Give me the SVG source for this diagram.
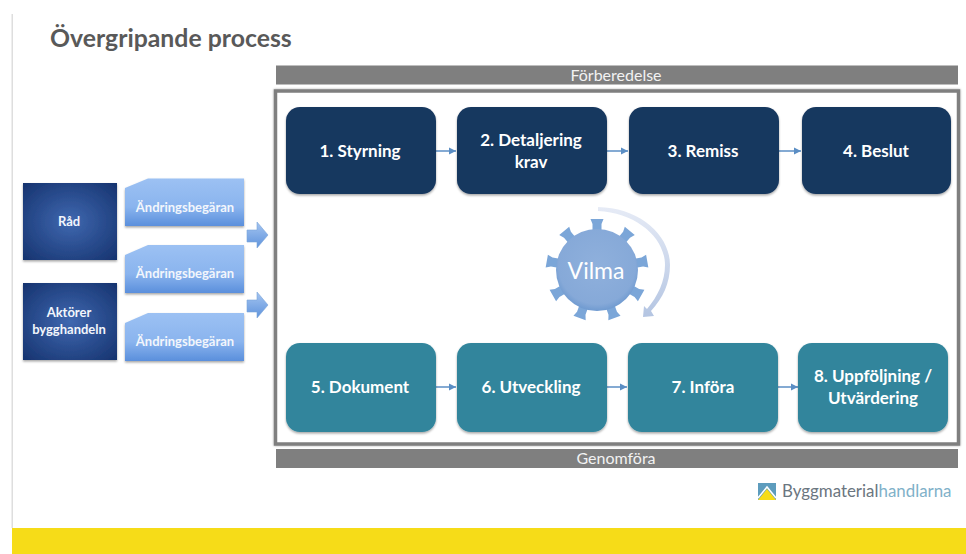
<svg xmlns="http://www.w3.org/2000/svg" width="966" height="554" viewBox="0 0 966 554">
<style>
text{font-family:Lato,"Open Sans","Liberation Sans",sans-serif;text-anchor:middle}
.b{font-weight:700;font-size:17px;fill:#fff}
.s{font-weight:700;font-size:13px;fill:#f2f6fc}
.h{font-size:16px;fill:#f2f2f2}
.navy{fill:#17375e;filter:url(#sh)}
.teal{fill:#31859c;filter:url(#sh)}
.ch{fill:url(#cg);filter:url(#sh)}
.sq{fill:url(#rg);filter:url(#sh)}
.ar{fill:url(#ag);stroke:#7ba4d8;stroke-width:.6}
.c{stroke:#5b8ec4;stroke-width:1.500;fill:none;marker-end:url(#m)}
.t{fill:#7ba6d8}
</style>
<defs>
<filter id="sh" x="-5%" y="-5%" width="110%" height="112%"><feDropShadow dx="0" dy="1.500" stdDeviation="1.200" flood-color="#000" flood-opacity=".35"/></filter>
<filter id="fs" x="-2%" y="-2%" width="104%" height="104%"><feDropShadow dx="0" dy="0" stdDeviation="1.200" flood-color="#000" flood-opacity=".35"/></filter>
<marker id="m" markerWidth="6" markerHeight="6" refX="5" refY="3" orient="auto"><path d="M0 .5L5 3L0 5.500z" fill="#5b8ec4"/></marker>
<linearGradient id="cg" x1="0" y1="0" x2="0" y2="1"><stop offset="0" stop-color="#9cc1f3"/><stop offset=".6" stop-color="#8ab4ee"/><stop offset="1" stop-color="#5a8fdc"/></linearGradient>
<linearGradient id="ag" x1="0" y1="0" x2="0" y2="1"><stop offset="0" stop-color="#a5c5f1"/><stop offset="1" stop-color="#5f93dc"/></linearGradient>
<radialGradient id="rg" cx=".5" cy=".5" r=".7"><stop offset="0" stop-color="#3f68b0"/><stop offset="1" stop-color="#16336f"/></radialGradient>
<radialGradient id="gg" cx=".5" cy=".45" r=".55"><stop offset="0" stop-color="#8fb0dc"/><stop offset=".85" stop-color="#86a9d8"/><stop offset="1" stop-color="#6f9ad0"/></radialGradient>
<linearGradient id="arc" x1="0" y1="0" x2="0" y2="1"><stop offset="0" stop-color="#e6ebf6"/><stop offset="1" stop-color="#b4c5e2"/></linearGradient>
<path id="tooth" class="t" d="M-4.500 -36V-46L-6.500 -51H6.500L4.500 -46V-36Z"/>
</defs>
<rect width="966" height="554" fill="#fff"/>
<rect x="11.500" y="14" width="1.500" height="514" fill="#dedede"/>
<rect x="12" y="528" width="954" height="26" fill="#f6dc18"/>
<text x="50" y="47" style="text-anchor:start;font-weight:700;font-size:24.800px;fill:#595959">Övergripande process</text>

<g id="frame"><rect x="275.500" y="91" width="683" height="353" fill="#fff" stroke="#7f7f7f" stroke-width="3.500" filter="url(#fs)"/></g>
<g id="forberedelse"><rect x="276" y="65.500" width="682" height="19" fill="#7f7f7f"/><text class="h" x="616" y="81">Förberedelse</text></g>
<g id="genomfora"><rect x="276" y="449" width="682" height="19" fill="#7f7f7f"/><text class="h" x="616" y="464">Genomföra</text></g>

<g id="connectors">
<path class="c" d="M436 151H456"/>
<path class="c" d="M607 151H628"/>
<path class="c" d="M779 151H801"/>
<path class="c" d="M436 387H456"/>
<path class="c" d="M607 387H627"/>
<path class="c" d="M778 387H798"/>
</g>

<g id="n1"><rect class="navy" x="286" y="107" width="150" height="87" rx="14"/><text class="b" x="360" y="157">1. Styrning</text></g>
<g id="n2"><rect class="navy" x="457" y="107" width="150" height="87" rx="14"/><text class="b" x="531" y="146">2. Detaljering</text><text class="b" x="531" y="168">krav</text></g>
<g id="n3"><rect class="navy" x="629" y="107" width="150" height="87" rx="14"/><text class="b" x="703" y="157">3. Remiss</text></g>
<g id="n4"><rect class="navy" x="802" y="107" width="149" height="87" rx="14"/><text class="b" x="876" y="157">4. Beslut</text></g>
<g id="n5"><rect class="teal" x="286" y="343" width="150" height="89" rx="14"/><text class="b" x="360" y="393">5. Dokument</text></g>
<g id="n6"><rect class="teal" x="457" y="343" width="150" height="89" rx="14"/><text class="b" x="531" y="393">6. Utveckling</text></g>
<g id="n7"><rect class="teal" x="628" y="343" width="150" height="89" rx="14"/><text class="b" x="703" y="393">7. Införa</text></g>
<g id="n8"><rect class="teal" x="798" y="343" width="150" height="89" rx="14"/><text class="b" x="873" y="382">8. Uppföljning /</text><text class="b" x="873" y="404">Utvärdering</text></g>

<g id="vilma">
<path d="M598 207C640 208 670 235 670 265C670 283 663 298 651 311L654 316L643 317L644 306L647 309C658 296 665 281 665 265C665 238 637 213 598 211Z" fill="url(#arc)"/>
<g transform="translate(597 270)">
<use href="#tooth"/>
<use href="#tooth" transform="rotate(40)"/>
<use href="#tooth" transform="rotate(80)"/>
<use href="#tooth" transform="rotate(120)"/>
<use href="#tooth" transform="rotate(160)"/>
<use href="#tooth" transform="rotate(200)"/>
<use href="#tooth" transform="rotate(240)"/>
<use href="#tooth" transform="rotate(280)"/>
<use href="#tooth" transform="rotate(320)"/>
<circle r="41" fill="url(#gg)"/>
</g>
<text x="596" y="279" style="font-size:23px;fill:#fff">Vilma</text>
</g>

<g id="rad"><rect class="sq" x="23" y="183" width="94" height="77"/><text class="s" x="69" y="226">Råd</text></g>
<g id="aktorer"><rect class="sq" x="23" y="283" width="94" height="77"/><text class="s" x="69" y="317">Aktörer</text><text class="s" x="69" y="334">bygghandeln</text></g>
<g id="e1"><path class="ch" d="M125 188L148 178.500H244V226H125Z"/><text class="s" x="185" y="212">Ändringsbegäran</text></g>
<g id="e2"><path class="ch" d="M125 255L148 245H244V293H125Z"/><text class="s" x="185" y="278">Ändringsbegäran</text></g>
<g id="e3"><path class="ch" d="M125 323L148 313H244V361H125Z"/><text class="s" x="185" y="346">Ändringsbegäran</text></g>
<g id="a1"><path class="ar" d="M247 230H257V222L268 235L257 248V242H247Z"/></g>
<g id="a2"><path class="ar" d="M247 300H257V292L268 305L257 318V312H247Z"/></g>

<g id="logo">
<rect x="758" y="483" width="18" height="17" fill="#5d9cbd"/>
<path d="M758 500L767 489L776 500Z" fill="#f6dc18"/>
<path d="M758 498L767 487L776 498" fill="none" stroke="#fff" stroke-width="1.500"/>
<text x="782" y="497" style="text-anchor:start;font-size:16.900px;fill:#6b7680">Byggmaterial<tspan fill="#7fb1c9">handlarna</tspan></text>
</g>
</svg>
